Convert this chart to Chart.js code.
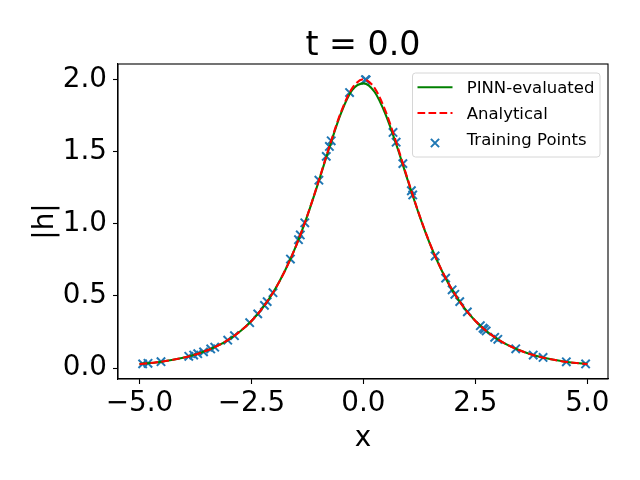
<!DOCTYPE html>
<html>
<head>
<meta charset="utf-8">
<script src="https://cdn.jsdelivr.net/npm/chart.js@4.4.1/dist/chart.umd.min.js"></script>
<style>
  body { margin: 0; background: #fff; }
  canvas { display: block; }
</style>
</head>
<body>
<canvas id="solitonChart" width="640" height="480"></canvas>
<script>
// values
const curveX = [-5, -4.75, -4.5, -4.25, -4, -3.75, -3.5, -3.25, -3, -2.75, -2.5, -2.25, -2, -1.75, -1.5, -1.25, -1, -0.75, -0.5, -0.25,
  0, 0.25, 0.5, 0.75, 1, 1.25, 1.5, 1.75, 2, 2.25, 2.5, 2.75, 3, 3.25, 3.5, 3.75, 4, 4.25, 4.5, 4.75, 5];
const analyticalY = [0.027, 0.035, 0.044, 0.057, 0.073, 0.094, 0.121, 0.155, 0.199, 0.255, 0.326, 0.417, 0.532, 0.675, 0.850, 1.059, 1.296, 1.545, 1.774, 1.939,
  2.000, 1.939, 1.774, 1.545, 1.296, 1.059, 0.850, 0.675, 0.532, 0.417, 0.326, 0.255, 0.199, 0.155, 0.121, 0.094, 0.073, 0.057, 0.044, 0.035, 0.027];
const pinnY = [0.028, 0.035, 0.044, 0.057, 0.073, 0.094, 0.121, 0.155, 0.199, 0.255, 0.326, 0.417, 0.532, 0.675, 0.849, 1.057, 1.292, 1.538, 1.766, 1.926,
  1.972, 1.912, 1.752, 1.533, 1.290, 1.056, 0.848, 0.674, 0.531, 0.417, 0.326, 0.255, 0.199, 0.155, 0.121, 0.094, 0.073, 0.057, 0.044, 0.035, 0.028];

const trainX = [-4.93, -4.81, -4.52, -3.90, -3.79, -3.70, -3.57, -3.41, -3.32, -3.03, -2.88, -2.54, -2.36, -2.21, -2.15, -2.02,
  -1.63, -1.45, -1.41, -1.31, -0.995, -0.83, -0.76, -0.72, -0.31, 0.045,
  0.06, 0.66, 0.73, 0.88, 1.07, 1.10, 1.60, 1.835, 1.98, 2.04, 2.15, 2.32, 2.61, 2.67, 2.70, 2.74, 2.93, 3.00, 3.40, 3.79, 4.01, 4.53, 4.96];
const trainY = [0.029, 0.033, 0.044, 0.081, 0.090, 0.099, 0.112, 0.132, 0.144, 0.193, 0.224, 0.314, 0.375, 0.434, 0.460, 0.522,
  0.755, 0.889, 0.922, 1.006, 1.301, 1.466, 1.535, 1.574, 1.908, 1.998,
  1.996, 1.632, 1.564, 1.416, 1.228, 1.199, 0.776, 0.623, 0.542, 0.511, 0.460, 0.389, 0.293, 0.276, 0.268, 0.257, 0.213, 0.199, 0.133, 0.090, 0.073, 0.043, 0.028];

const xTicks = [-5, -2.5, 0, 2.5, 5];
const xTickLabels = ['\u22125.0', '\u22122.5', '0.0', '2.5', '5.0'];
const yTicks = [0, 0.5, 1, 1.5, 2];
const yTickLabels = ['0.0', '0.5', '1.0', '1.5', '2.0'];

const FONT = 'DejaVu Sans';
Chart.defaults.font.family = FONT;
Chart.defaults.color = '#000';

const toPoints = (xs, ys) => xs.map((x, i) => ({x: x, y: ys[i]}));

// matplotlib-like frame, title and legend
const framePlugin = {
  id: 'frame',
  afterDraw(chart) {
    const {ctx, chartArea: a} = chart;
    ctx.save();
    ctx.strokeStyle = '#000';
    ctx.lineWidth = 1.1;
    ctx.strokeRect(a.left, a.top, a.right - a.left, a.bottom - a.top);

    ctx.fillStyle = '#000';
    ctx.font = '33.3px "' + FONT + '"';
    ctx.textAlign = 'center';
    ctx.textBaseline = 'alphabetic';
    ctx.fillText('t = 0.0', (a.left + a.right) / 2, 55);

    // legend box
    const bx = 412.5, by = 73, bw = 187.5, bh = 84;
    ctx.beginPath();
    ctx.roundRect(bx, by, bw, bh, 3);
    ctx.fillStyle = 'rgba(255,255,255,0.8)';
    ctx.fill();
    ctx.strokeStyle = '#d6d6d6';
    ctx.lineWidth = 1;
    ctx.stroke();

    const rows = [87.3, 113, 139.5];
    ctx.font = '16.5px "' + FONT + '"';
    ctx.textAlign = 'left';
    ctx.textBaseline = 'middle';
    chart.data.datasets.forEach((ds, i) => {
      const y = rows[i];
      ctx.save();
      if (ds.showLine) {
        ctx.strokeStyle = ds.borderColor;
        ctx.lineWidth = ds.borderWidth;
        ctx.setLineDash(ds.borderDash || []);
        ctx.beginPath();
        ctx.moveTo(417.5, y);
        ctx.lineTo(452.5, y);
        ctx.stroke();
      } else {
        ctx.strokeStyle = ds.pointBorderColor;
        ctx.lineWidth = ds.pointBorderWidth;
        const h = 4.1, cy = y + 3.5;
        ctx.beginPath();
        ctx.moveTo(435 - h, cy - h); ctx.lineTo(435 + h, cy + h);
        ctx.moveTo(435 - h, cy + h); ctx.lineTo(435 + h, cy - h);
        ctx.stroke();
      }
      ctx.restore();
      ctx.fillStyle = '#000';
      ctx.fillText(ds.label, 466.7, y + 1.5);
    });
    ctx.restore();
  }
};

new Chart(document.getElementById('solitonChart'), {
  type: 'scatter',
  data: {
    datasets: [{
      label: 'PINN-evaluated',
      data: toPoints(curveX, pinnY),
      showLine: true,
      borderColor: '#008000',
      borderWidth: 2.1,
      pointRadius: 0,
      cubicInterpolationMode: 'monotone',
      order: 1
    }, {
      label: 'Analytical',
      data: toPoints(curveX, analyticalY),
      showLine: true,
      borderColor: '#ff0000',
      borderWidth: 2.1,
      borderDash: [7.7, 3.3],
      pointRadius: 0,
      cubicInterpolationMode: 'monotone',
      order: 0
    }, {
      label: 'Training Points',
      data: toPoints(trainX, trainY),
      showLine: false,
      pointStyle: 'crossRot',
      pointRadius: 5.9,
      pointBorderWidth: 2,
      pointBorderColor: '#1f77b4',
      pointBackgroundColor: '#1f77b4',
      order: 2
    }]
  },
  options: {
    responsive: false,
    animation: false,
    events: [],
    layout: { padding: { top: 64, right: 32, left: 0, bottom: 0 }, autoPadding: false },
    plugins: {
      legend: { display: false },
      tooltip: { enabled: false }
    },
    scales: {
      x: {
        type: 'linear',
        min: -5.48,
        max: 5.46,
        afterFit: s => { s.height = 101; },
        afterBuildTicks: s => { s.ticks = xTicks.map(v => ({value: v})); },
        ticks: {
          font: { size: 27.8 },
          padding: 3,
          maxRotation: 0,
          callback: v => xTickLabels[xTicks.indexOf(v)]
        },
        grid: { drawOnChartArea: false, drawTicks: true, tickLength: 5, tickColor: '#000', tickWidth: 1.1 },
        border: { display: true, color: '#000', width: 1.1 },
        title: { display: true, text: 'x', font: { size: 27.8 }, padding: { top: 0, bottom: 25 } }
      },
      y: {
        type: 'linear',
        min: -0.076,
        max: 2.106,
        afterFit: s => { s.width = 118; },
        afterBuildTicks: s => { s.ticks = yTicks.map(v => ({value: v})); },
        ticks: {
          font: { size: 27.8 },
          padding: 6,
          callback: v => yTickLabels[yTicks.indexOf(v)]
        },
        grid: { drawOnChartArea: false, drawTicks: true, tickLength: 5, tickColor: '#000', tickWidth: 1.1 },
        border: { display: true, color: '#000', width: 1.1 },
        title: { display: true, text: '|h|', font: { size: 27.8 }, padding: { top: 29, bottom: 0 } }
      }
    }
  },
  plugins: [framePlugin]
});
</script>
</body>
</html>
